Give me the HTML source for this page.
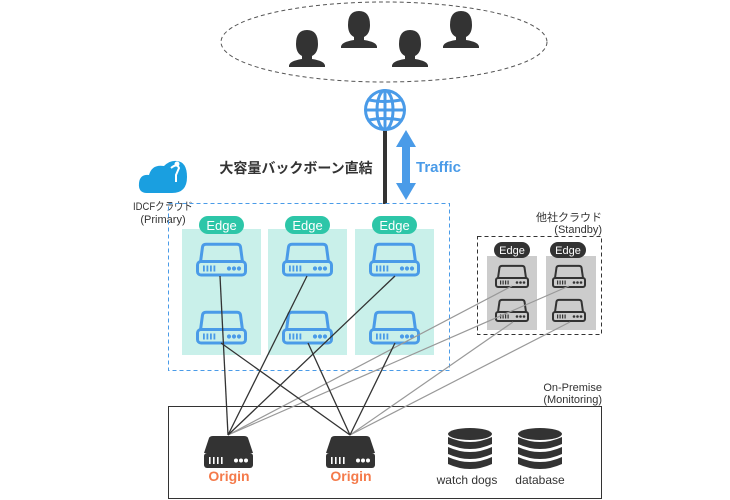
<!DOCTYPE html>
<html><head><meta charset="utf-8"><style>
html,body{margin:0;padding:0;background:#fff}
svg{display:block}
text{font-family:"Liberation Sans","Noto Sans CJK JP",sans-serif}
</style></head><body>
<svg width="730" height="500" viewBox="0 0 730 500" xmlns="http://www.w3.org/2000/svg">
<defs>
<g id="srv">
  <path d="M4.5,19 L6.5,4 Q7,1.3 10,1.3 L41,1.3 Q44,1.3 44.5,4 L46.5,19" fill="none" stroke="#4a9be8" stroke-width="3" stroke-linejoin="round"/>
  <rect x="1.5" y="18.5" width="48" height="13.5" rx="3.5" fill="none" stroke="#4a9be8" stroke-width="3"/>
  <g fill="#4a9be8"><rect x="7" y="22.5" width="1.8" height="6"/><rect x="10.5" y="22.5" width="1.8" height="6"/><rect x="14" y="22.5" width="1.8" height="6"/><rect x="17.5" y="22.5" width="1.8" height="6"/>
  <circle cx="33" cy="25.5" r="2.1"/><circle cx="38" cy="25.5" r="2.1"/><circle cx="43" cy="25.5" r="2.1"/></g>
</g>
<g id="srvs">
  <path d="M3,13 L4.5,2.5 Q5,0.9 7,0.9 L27,0.9 Q29,0.9 29.5,2.5 L31,13" fill="none" stroke="#333" stroke-width="2" stroke-linejoin="round"/>
  <rect x="1" y="13" width="32" height="9" rx="2" fill="none" stroke="#333" stroke-width="2"/>
  <g fill="#333"><rect x="5" y="15.5" width="1.2" height="4"/><rect x="7.5" y="15.5" width="1.2" height="4"/><rect x="10" y="15.5" width="1.2" height="4"/><rect x="12.5" y="15.5" width="1.2" height="4"/>
  <circle cx="22" cy="17.5" r="1.3"/><circle cx="25.5" cy="17.5" r="1.3"/><circle cx="29" cy="17.5" r="1.3"/></g>
</g>
<g id="person">
  <path d="M-11,-16 Q-11,-30 0,-30 Q11,-30 11,-16 Q11,-7 5,-4 L5,-1 Q18,1 18,6 L18,7 L-18,7 L-18,6 Q-18,1 -5,-1 L-5,-4 Q-11,-7 -11,-16 Z" fill="#333"/>
</g>
<g id="db">
  <ellipse cx="0" cy="-14" rx="22" ry="6" fill="#333"/>
  <path d="M-22,-11 Q0,-1 22,-11 L22,-4 Q0,6 -22,-4 Z" fill="#333"/>
  <path d="M-22,-1 Q0,9 22,-1 L22,6 Q0,16 -22,6 Z" fill="#333"/>
  <path d="M-22,9 Q0,19 22,9 L22,16 Q0,26 -22,16 Z" fill="#333"/>
</g>
</defs>

<ellipse cx="384" cy="42" rx="163" ry="40" fill="none" stroke="#555" stroke-width="1" stroke-dasharray="4,3"/>
<use href="#person" x="307" y="60"/>
<use href="#person" x="359" y="41"/>
<use href="#person" x="410" y="60"/>
<use href="#person" x="461" y="41"/>

<rect x="383" y="130" width="4" height="74" fill="#333"/>
<g fill="none" stroke="#4a9be8" stroke-width="3">
  <circle cx="385" cy="110" r="19.5"/>
  <ellipse cx="385" cy="110" rx="8" ry="19.5"/>
  <line x1="385" y1="91" x2="385" y2="129"/>
  <line x1="366" y1="110" x2="404" y2="110"/>
  <path d="M369,100 Q385,103 401,100"/>
  <path d="M369,120 Q385,117 401,120"/>
</g>
<polygon points="406,130 396,147 402,147 402,183 396,183 406,200 416,183 410,183 410,147 416,147" fill="#4a9be8"/>
<text x="296" y="173" font-size="14" font-weight="bold" fill="#333" text-anchor="middle">大容量バックボーン直結</text>
<text x="416" y="172" font-size="15" font-weight="bold" fill="#4a9be8">Traffic</text>

<path d="M147,193 Q138,193 139,183 Q140,174 149,175 Q152,164 164,166 Q170,160 177,161 Q187,162 187,177 Q187,193 172,193 Z" fill="#1a9fe0"/>
<path d="M171,168 Q177,163 179,168 L176,175 L176,182" fill="none" stroke="#fff" stroke-width="2"/>
<circle cx="177" cy="164" r="2.5" fill="#fff"/>
<text x="163" y="210" font-size="11" fill="#333" text-anchor="middle" textLength="60" lengthAdjust="spacingAndGlyphs">IDCFクラウド</text>
<text x="163" y="223" font-size="11" fill="#333" text-anchor="middle">(Primary)</text>

<rect x="168.5" y="203.5" width="281" height="167" fill="none" stroke="#4a9be8" stroke-width="1" stroke-dasharray="4,3"/>
<rect x="182" y="229" width="79" height="126" fill="#c9f0ea"/>
<rect x="268" y="229" width="79" height="126" fill="#c9f0ea"/>
<rect x="355" y="229" width="79" height="126" fill="#c9f0ea"/>
<g fill="#2dc6a8">
  <rect x="199" y="216" width="45" height="18" rx="9"/>
  <rect x="285" y="216" width="45" height="18" rx="9"/>
  <rect x="372" y="216" width="45" height="18" rx="9"/>
</g>
<g font-size="13" fill="#fff" text-anchor="middle">
  <text x="221.5" y="230">Edge</text><text x="307.5" y="230">Edge</text><text x="394.5" y="230">Edge</text>
</g>

<text x="602" y="221" font-size="11" fill="#333" text-anchor="end">他社クラウド</text>
<text x="602" y="233" font-size="11" fill="#333" text-anchor="end">(Standby)</text>
<rect x="477.5" y="236.5" width="124" height="98" fill="none" stroke="#333" stroke-width="1" stroke-dasharray="4,3"/>
<rect x="487" y="256" width="50" height="74" fill="#cccccc"/>
<rect x="546" y="256" width="50" height="74" fill="#cccccc"/>
<rect x="494" y="242" width="36" height="16" rx="8" fill="#333"/>
<rect x="550" y="242" width="36" height="16" rx="8" fill="#333"/>
<text x="512" y="254" font-size="11" fill="#fff" text-anchor="middle">Edge</text>
<text x="568" y="254" font-size="11" fill="#fff" text-anchor="middle">Edge</text>
<use href="#srvs" x="495" y="265"/>
<use href="#srvs" x="552" y="265"/>
<use href="#srvs" x="495" y="299"/>
<use href="#srvs" x="552" y="299"/>

<use href="#srv" x="196" y="243"/>
<use href="#srv" x="282" y="243"/>
<use href="#srv" x="369" y="243"/>
<use href="#srv" x="196" y="311"/>
<use href="#srv" x="282" y="311"/>
<use href="#srv" x="369" y="311"/>

<text x="602" y="391" font-size="11" fill="#333" text-anchor="end">On-Premise</text>
<text x="602" y="403" font-size="11" fill="#333" text-anchor="end">(Monitoring)</text>
<rect x="168.5" y="406.5" width="433" height="92" fill="none" stroke="#333" stroke-width="1"/>

<g stroke="#999" stroke-width="1.2">
  <line x1="228" y1="435" x2="512" y2="286"/>
  <line x1="228" y1="435" x2="569" y2="286"/>
  <line x1="350" y1="435" x2="513" y2="322"/>
  <line x1="350" y1="435" x2="570" y2="322"/>
</g>
<g stroke="#333" stroke-width="1.3">
  <line x1="228" y1="435" x2="220" y2="276"/>
  <line x1="228" y1="435" x2="307" y2="276"/>
  <line x1="228" y1="435" x2="395" y2="276"/>
  <line x1="350" y1="435" x2="221" y2="343"/>
  <line x1="350" y1="435" x2="308" y2="343"/>
  <line x1="350" y1="435" x2="395" y2="343"/>
</g>

<g id="origin">
  <path d="M204,453 L209,438 Q210,436 213,436 L244,436 Q247,436 248,438 L253,453 Z" fill="#333"/>
  <rect x="204" y="453" width="49" height="15" rx="3" fill="#333"/>
  <g fill="#fff"><rect x="209" y="457" width="1.6" height="7"/><rect x="213" y="457" width="1.6" height="7"/><rect x="217" y="457" width="1.6" height="7"/><rect x="221" y="457" width="1.6" height="7"/>
  <circle cx="236" cy="460.5" r="2"/><circle cx="241" cy="460.5" r="2"/><circle cx="246" cy="460.5" r="2"/></g>
</g>
<use href="#origin" x="122" y="0"/>
<text x="229" y="481" font-size="14" font-weight="bold" fill="#f47a4a" text-anchor="middle">Origin</text>
<text x="351" y="481" font-size="14" font-weight="bold" fill="#f47a4a" text-anchor="middle">Origin</text>

<use href="#db" x="470" y="448"/>
<use href="#db" x="540" y="448"/>
<text x="467" y="484" font-size="12" fill="#333" text-anchor="middle">watch dogs</text>
<text x="540" y="484" font-size="12" fill="#333" text-anchor="middle">database</text>
</svg>
</body></html>
